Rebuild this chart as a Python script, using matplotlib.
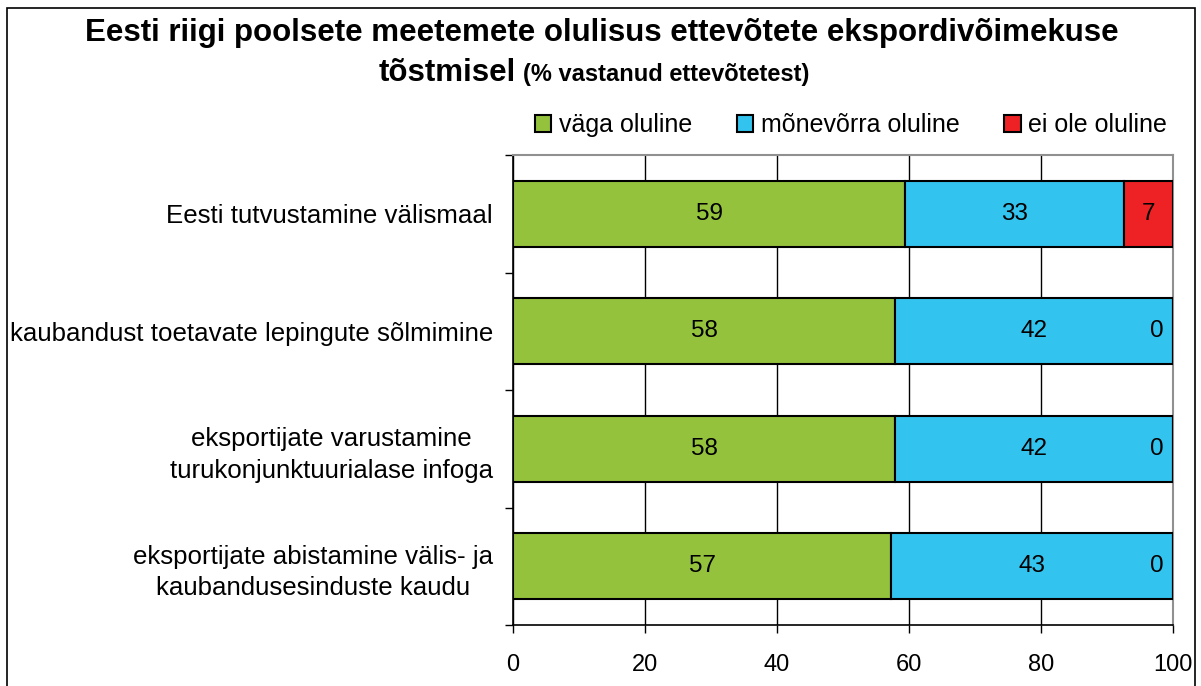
import matplotlib
matplotlib.use("Agg")
import matplotlib.pyplot as plt
from matplotlib.patches import Rectangle
import numpy as np

plt.rcParams['font.family'] = ['Liberation Sans', 'DejaVu Sans']

# andmed (ülevalt alla)
categories = [
    "Eesti tutvustamine välismaal",
    "kaubandust toetavate lepingute sõlmimine",
    "eksportijate varustamine\nturukonjunktuurialase infoga",
    "eksportijate abistamine välis- ja\nkaubandusesinduste kaudu",
]
vaga_oluline = [59.4, 57.9, 57.9, 57.3]
monevorra_oluline = [33.2, 42.1, 42.1, 42.7]
ei_ole_oluline = [7.4, 0.0, 0.0, 0.0]
series_names = ["väga oluline", "mõnevõrra oluline", "ei ole oluline"]
colors = ["#95C23D", "#33C3EF", "#EE2224"]
xticks = [0, 20, 40, 60, 80, 100]

W, H = 1201, 686
fig = plt.figure(figsize=(W / 100, H / 100), dpi=100)


def px(x, y):
    return x / W, 1 - y / H


# raam ümber kogu joonise
fig.patches.append(Rectangle((7 / W, -0.05), (1195 - 7) / W, 1.05 - 8 / H,
                             transform=fig.transFigure, fill=False,
                             edgecolor="black", linewidth=1.2))

ax = fig.add_axes([513 / W, 1 - 625 / H, 660 / W, 470 / H])

y = np.arange(len(categories))
series = [vaga_oluline, monevorra_oluline, ei_ole_oluline]
left = np.zeros(len(categories))
for vals, name, col in zip(series, series_names, colors):
    vals = np.array(vals)
    ax.barh(y, vals, left=left, height=0.56, color=col, edgecolor="black",
            linewidth=1.5, label=name, zorder=3)
    for i, v in enumerate(vals):
        if v > 0:
            ax.text(left[i] + v / 2, y[i], f"{v:.0f}", ha="center", va="center",
                    fontsize=17.5, zorder=4)
        else:
            ax.annotate("0", (100, y[i]), xytext=(-9, 0), textcoords="offset pixels",
                        ha="right", va="center", fontsize=17.5, zorder=4)
    left = left + vals

ax.set_xlim(0, 100)
ax.set_ylim(len(categories) - 0.5, -0.5)
ax.set_xticks(xticks)
ax.set_xticklabels([str(t) for t in xticks], fontsize=17)
ax.set_yticks(y)
ax.set_yticklabels(categories, fontsize=18.6, multialignment="center", linespacing=1.4)
ax.tick_params(axis="y", length=0, pad=14.5)
ax.set_yticks(np.arange(-0.5, len(categories), 1), minor=True)
ax.tick_params(axis="y", which="minor", length=6, width=1, direction="out")
ax.tick_params(axis="x", length=6, width=1, direction="out", pad=15)

ax.grid(axis="x", color="black", linewidth=1, zorder=0)
for s in ["top", "right"]:
    ax.spines[s].set_color("#909090")
    ax.spines[s].set_linewidth(1.5)
for s in ["left", "bottom"]:
    ax.spines[s].set_color("black")
    ax.spines[s].set_linewidth(1.2)

# pealkiri
fig.text(*px(602, 33), "Eesti riigi poolsete meetemete olulisus ettevõtete ekspordivõimekuse",
         ha="center", va="center", fontsize=22.5, fontweight="bold")
fig.text(*px(516, 73), "tõstmisel", ha="right", va="center",
         fontsize=22.5, fontweight="bold")
fig.text(*px(523, 74), "(% vastanud ettevõtetest)", ha="left", va="center",
         fontsize=17, fontweight="bold")

handles, labels = ax.get_legend_handles_labels()
fig.legend(handles, labels, loc="center", bbox_to_anchor=px(851, 125), ncol=3,
           frameon=False, fontsize=18, handlelength=0.65, handleheight=0.65,
           handletextpad=0.3, columnspacing=1.8)

fig.savefig("out.png", dpi=100)
